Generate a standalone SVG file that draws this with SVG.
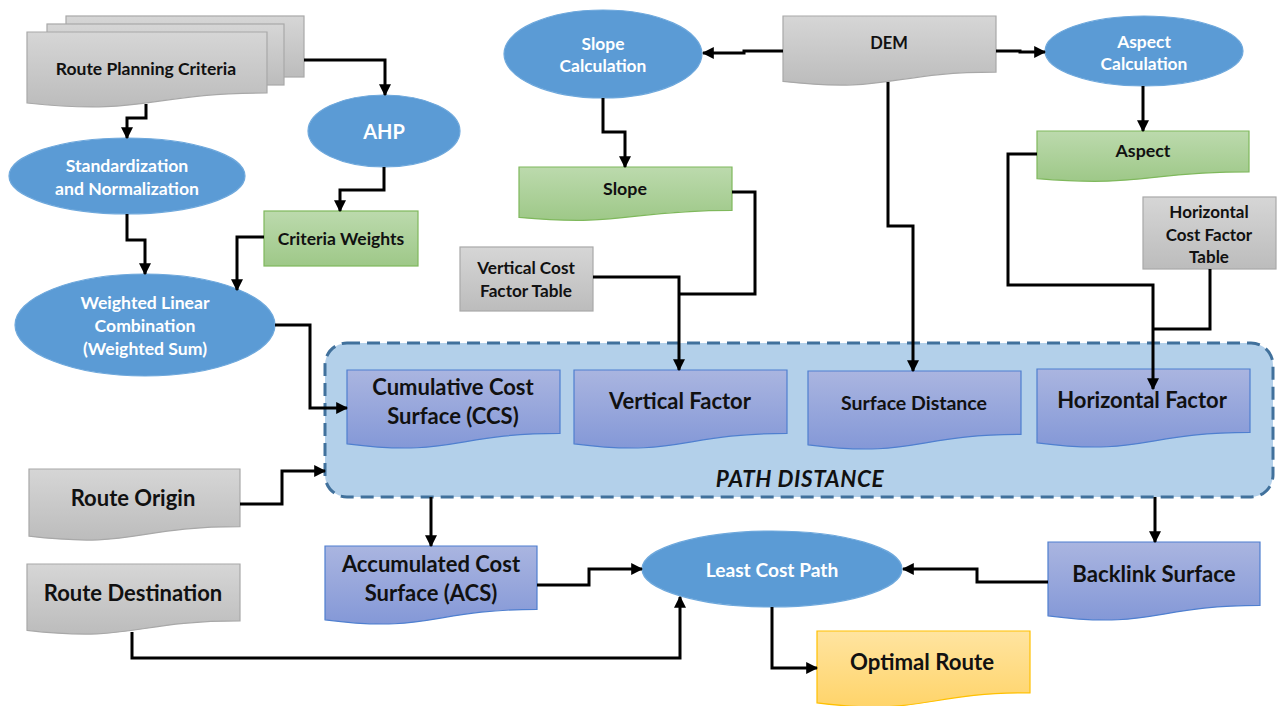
<svg xmlns="http://www.w3.org/2000/svg" width="1277" height="706" viewBox="0 0 1277 706">
<defs>
<linearGradient id="gGray" x1="0" y1="0" x2="0" y2="1"><stop offset="0" stop-color="#d6d6d6"/><stop offset="1" stop-color="#bcbcbc"/></linearGradient>
<linearGradient id="gGreen" x1="0" y1="0" x2="0" y2="1"><stop offset="0" stop-color="#bcdaad"/><stop offset="1" stop-color="#9ec888"/></linearGradient>
<linearGradient id="gPurple" x1="0" y1="0" x2="0" y2="1"><stop offset="0" stop-color="#aab5e0"/><stop offset="1" stop-color="#8498d7"/></linearGradient>
<linearGradient id="gYellow" x1="0" y1="0" x2="0" y2="1"><stop offset="0" stop-color="#ffe4a0"/><stop offset="1" stop-color="#ffd46a"/></linearGradient>
<marker id="arr" viewBox="0 0 10 10" refX="9" refY="5" markerWidth="12" markerHeight="12" markerUnits="userSpaceOnUse" orient="auto"><path d="M0,0 L10,5 L0,10 z" fill="#000"/></marker>
<style>
.gray{fill:url(#gGray);stroke:#a8a8a8;stroke-width:1.2}
.green{fill:url(#gGreen);stroke:#7fb85c;stroke-width:1.2}
.purple{fill:url(#gPurple);stroke:#4f7fcf;stroke-width:1.2}
.yellow{fill:url(#gYellow);stroke:#ffc000;stroke-width:1.2}
.ell{fill:#5b9bd5;stroke:#6ea8dc;stroke-width:1.2}
.t{font-family:Lato,"Liberation Sans",sans-serif;font-weight:bold;fill:#111;text-anchor:middle;dominant-baseline:central}
.w{fill:#fff}
.conn path{fill:none;stroke:#000;stroke-width:3}
.a{marker-end:url(#arr)}
</style>
</defs>
<rect width="1277" height="706" fill="#fff"/>

<g id="path-distance">
<rect x="325" y="343" width="948" height="154" rx="22" fill="#b3d0ea" stroke="#41719c" stroke-width="3" stroke-dasharray="13,7"/>
<text x="800" y="478" class="t" font-size="22.5" font-style="italic" letter-spacing="0.6">PATH DISTANCE</text>
</g>

<g id="route-planning-criteria">
<rect x="66" y="16" width="238" height="61" class="gray"/>
<rect x="47" y="24" width="237" height="61" class="gray"/>
<path d="M27,32 H267 V93 C147,93 147,116 27,103 Z" class="gray"/>
<text x="146" y="68" class="t" font-size="17.5">Route Planning Criteria</text>
</g>

<g id="ahp">
<ellipse cx="384" cy="131" rx="76" ry="36" class="ell"/>
<text x="384" y="131" class="t w" font-size="20">AHP</text>
</g>

<g id="standardization">
<ellipse cx="127" cy="176" rx="118" ry="38" class="ell"/>
<text x="127" y="165" class="t w" font-size="17.6">Standardization</text>
<text x="127" y="188" class="t w" font-size="17.6">and Normalization</text>
</g>

<g id="criteria-weights">
<rect x="264" y="211" width="154" height="55" class="green"/>
<text x="341" y="238" class="t" font-size="17.5">Criteria Weights</text>
</g>

<g id="wlc">
<ellipse cx="145" cy="325" rx="130" ry="51" class="ell"/>
<text x="145" y="302" class="t w" font-size="17.6">Weighted Linear</text>
<text x="145" y="325" class="t w" font-size="17.6">Combination</text>
<text x="145" y="348" class="t w" font-size="17.6">(Weighted Sum)</text>
</g>

<g id="slope-calculation">
<ellipse cx="603" cy="54" rx="99" ry="44" class="ell"/>
<text x="603" y="43" class="t w" font-size="17.4">Slope</text>
<text x="603" y="65" class="t w" font-size="17.4">Calculation</text>
</g>

<g id="dem">
<path d="M783,16 H996 V72.1 C889.5,72.1 889.5,93.5 783,81.4 Z" class="gray"/>
<text x="889" y="43" class="t" font-size="16.5">DEM</text>
</g>

<g id="aspect-calculation">
<ellipse cx="1144" cy="51" rx="99" ry="35" class="ell"/>
<text x="1144" y="41" class="t w" font-size="17.4">Aspect</text>
<text x="1144" y="63" class="t w" font-size="17.4">Calculation</text>
</g>

<g id="slope">
<path d="M519,167 H732 V210.3 C625.5,210.3 625.5,226.8 519,217.4 Z" class="green"/>
<text x="625" y="188" class="t" font-size="17.8">Slope</text>
</g>

<g id="aspect">
<path d="M1037,131 H1249 V171.9 C1143,171.9 1143,187.5 1037,178.6 Z" class="green"/>
<text x="1143" y="150" class="t" font-size="17.8">Aspect</text>
</g>

<g id="vertical-cost-factor-table">
<rect x="460" y="247" width="133" height="64" class="gray"/>
<text x="526" y="267" class="t" font-size="17.2">Vertical Cost</text>
<text x="526" y="290" class="t" font-size="17.2">Factor Table</text>
</g>

<g id="horizontal-cost-factor-table">
<rect x="1143" y="197" width="133" height="72" class="gray"/>
<text x="1209" y="211" class="t" font-size="17">Horizontal</text>
<text x="1209" y="234" class="t" font-size="17">Cost Factor</text>
<text x="1209" y="256" class="t" font-size="17">Table</text>
</g>

<g id="ccs">
<path d="M347,370 H560 V433.4 C453.5,433.4 453.5,457.5 347,443.8 Z" class="purple"/>
<text x="453" y="386" class="t" font-size="22">Cumulative Cost</text>
<text x="453" y="415" class="t" font-size="22">Surface (CCS)</text>
</g>

<g id="vertical-factor">
<path d="M574,370 H787 V433.4 C680.5,433.4 680.5,457.5 574,443.8 Z" class="purple"/>
<text x="680" y="400" class="t" font-size="22">Vertical Factor</text>
</g>

<g id="surface-distance">
<path d="M808,371 H1021 V434.4 C914.5,434.4 914.5,458.5 808,444.8 Z" class="purple"/>
<text x="914" y="402" class="t" font-size="19.5">Surface Distance</text>
</g>

<g id="horizontal-factor">
<path d="M1037,369 H1250 V432.4 C1143.5,432.4 1143.5,456.5 1037,442.8 Z" class="purple"/>
<text x="1142" y="399" class="t" font-size="22">Horizontal Factor</text>
</g>

<g id="route-origin">
<path d="M29,469 H240 V526.7 C134.5,526.7 134.5,548.7 29,536.2 Z" class="gray"/>
<text x="133" y="497" class="t" font-size="22">Route Origin</text>
</g>

<g id="route-destination">
<path d="M27,564 H240 V620.9 C133.5,620.9 133.5,642.6 27,630.3 Z" class="gray"/>
<text x="133" y="592" class="t" font-size="22">Route Destination</text>
</g>

<g id="acs">
<path d="M325,546 H537 V609.4 C431,609.4 431,633.5 325,619.8 Z" class="purple"/>
<text x="431" y="563" class="t" font-size="22">Accumulated Cost</text>
<text x="431" y="592" class="t" font-size="22">Surface (ACS)</text>
</g>

<g id="least-cost-path">
<ellipse cx="772" cy="569" rx="130" ry="38" class="ell"/>
<text x="772" y="569" class="t w" font-size="19.2" font-weight="normal">Least Cost Path</text>
</g>

<g id="backlink-surface">
<path d="M1048,542 H1260 V605.4 C1154,605.4 1154,629.5 1048,615.8 Z" class="purple"/>
<text x="1154" y="573" class="t" font-size="22.2">Backlink Surface</text>
</g>

<g id="optimal-route">
<path d="M817,631 H1030 V692.8 C923.5,692.8 923.5,716.2 817,702.9 Z" class="yellow"/>
<text x="922" y="661" class="t" font-size="22.2">Optimal Route</text>
</g>

<g id="connectors" class="conn">
<path class="a" d="M304,60 H385 V95"/>
<path class="a" d="M146,104 V118 H127 V138"/>
<path class="a" d="M384,167 V190 H340 V211"/>
<path class="a" d="M127,214 V240 H145 V274"/>
<path class="a" d="M264,237 H237 V290"/>
<path class="a" d="M275,325 H310 V408 H347"/>
<path class="a" d="M240,504 H282 V471 H325"/>
<path class="a" d="M431,497 V546"/>
<path class="a" d="M537,585 H589 V569 H642"/>
<path class="a" d="M132,632 V658 H680 V597"/>
<path class="a" d="M772,607 V668 H817"/>
<path class="a" d="M1155,497 V542"/>
<path class="a" d="M1048,582 H977 V569 H903"/>
<path class="a" d="M783,51 H744 V53 H703"/>
<path class="a" d="M996,51 H1020 V52 H1045"/>
<path class="a" d="M1143,86 V131"/>
<path class="a" d="M603,98 V132 H625 V167"/>
<path d="M732,192 H755 V294 H679"/>
<path class="a" d="M593,277 H679 V370"/>
<path class="a" d="M888,82 V226 H913 V371"/>
<path class="a" d="M1037,154 H1008 V285 H1153 V389"/>
<path d="M1210,269 V329 H1153"/>
</g>
</svg>
